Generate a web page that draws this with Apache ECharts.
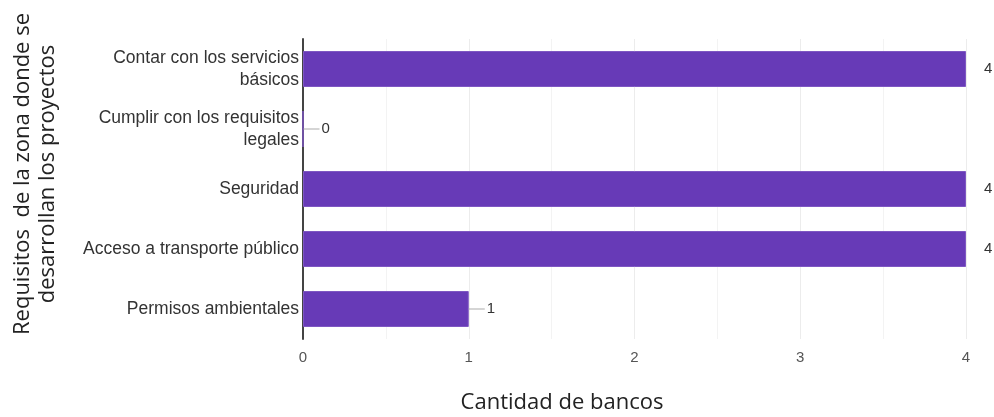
<!DOCTYPE html>
<html>
<head>
<meta charset="utf-8">
<script src="https://cdn.jsdelivr.net/npm/echarts@6/dist/echarts.min.js"></script>
<style>html,body{margin:0;padding:0;background:#fff}#c{width:994px;height:417px}</style>
</head>
<body>
<div id="c"></div>
<script>
const categories = [
  'Contar con los servicios\nbásicos',
  'Cumplir con los requisitos\nlegales',
  'Seguridad',
  'Acceso a transporte público',
  'Permisos ambientales'
];
const values = [4, 0, 4, 4, 1];
const xTicks = [0, 1, 2, 3, 4];
const yTitle = 'Requisitos  de la zona donde se\ndesarrollan los proyectos';
const xTitle = 'Cantidad de bancos';

const chart = echarts.init(document.getElementById('c'));
const xMax = xTicks[xTicks.length - 1];
chart.setOption({
  animation: false,
  grid: { left: 303, right: 28, top: 39, bottom: 78, containLabel: false },
  xAxis: {
    type: 'value', min: xTicks[0], max: xMax, interval: 1,
    axisLine: { show: false }, axisTick: { show: false },
    axisLabel: { color: '#555', fontSize: 15, fontFamily: 'Liberation Sans', margin: 11 },
    splitLine: { show: true, lineStyle: { color: '#ececec', width: 1 } },
    minorTick: { show: false, splitNumber: 2 },
    minorSplitLine: { show: true, lineStyle: { color: '#f3f3f3', width: 1 } }
  },
  yAxis: {
    type: 'category', data: categories, inverse: true,
    axisLine: { show: true, lineStyle: { color: '#444', width: 2 } },
    axisTick: { show: false },
    axisLabel: { color: '#333', fontSize: 17.5, fontFamily: 'Liberation Sans', margin: 4, lineHeight: 22, align: 'right' }
  },
  series: [{
    type: 'bar', barWidth: '60%',
    itemStyle: { color: '#673ab7', borderColor: '#7e57c2', borderWidth: 1 },
    data: values.map(v => ({
      value: v,
      label: { rich: { l: { width: 16, height: 1, backgroundColor: v === xMax ? 'rgba(0,0,0,0)' : '#aaa' } } }
    })),
    label: {
      show: true, position: 'right', distance: 0,
      formatter: p => '{l|}{v|' + p.value + '}',
      rich: {
        l: { width: 16, height: 1, backgroundColor: '#aaa' },
        v: { color: '#333', fontSize: 15, fontFamily: 'Liberation Sans', padding: [0, 0, 0, 2] }
      }
    }
  }],
  graphic: [
    {
      type: 'text', x: 35, y: 174, rotation: Math.PI / 2,
      style: { text: yTitle, font: '22px "Open Sans"', fill: '#222', align: 'center', verticalAlign: 'middle', lineHeight: 25 }
    },
    {
      type: 'text', x: 562, y: 403,
      style: { text: xTitle, font: '22px "Open Sans"', fill: '#222', align: 'center', verticalAlign: 'middle' }
    }
  ]
});
</script>
</body>
</html>
